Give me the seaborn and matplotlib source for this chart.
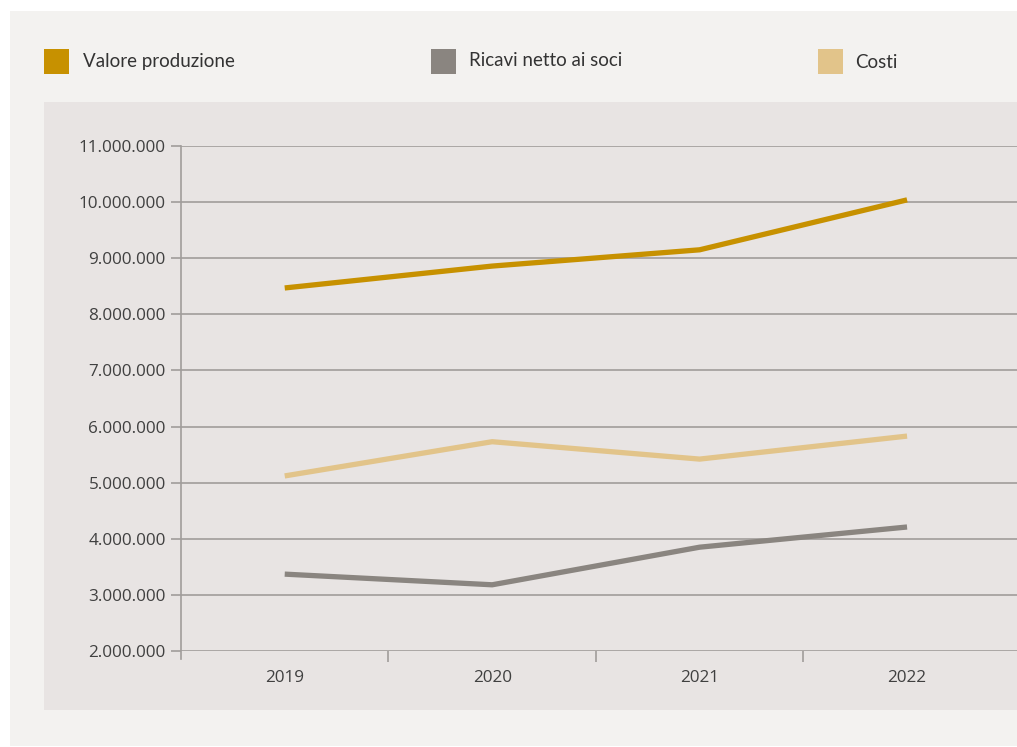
import matplotlib
matplotlib.use("Agg")
import matplotlib.pyplot as plt
import matplotlib.ticker as mticker
from matplotlib.patches import Rectangle
import seaborn as sns
import pandas as pd

# Data
years = ["2019", "2020", "2021", "2022"]
valore_produzione = [8470000, 8860000, 9150000, 10040000]
ricavi_netto_soci = [3370000, 3180000, 3850000, 4210000]
costi = [5120000, 5730000, 5420000, 5830000]

series_names = ["Valore produzione", "Ricavi netto ai soci", "Costi"]
colors = ["#c79100", "#8a8580", "#e2c48a"]

df = pd.DataFrame({
    "Anno": years * 3,
    "Valore": valore_produzione + ricavi_netto_soci + costi,
    "Serie": [series_names[0]] * 4 + [series_names[1]] * 4 + [series_names[2]] * 4,
})

sns.set_theme(style="white")
plt.rcParams["font.family"] = ["Open Sans", "DejaVu Sans"]

W, H = 1017, 747
fig = plt.figure(figsize=(W / 100, H / 100), dpi=100)
fig.patch.set_facecolor("white")

# background panels (pixel coords converted to figure fractions)
def px_rect(x0, y0, x1, y1, color):
    fig.patches.append(Rectangle((x0 / W, 1 - y1 / H), (x1 - x0) / W, (y1 - y0) / H,
                                 transform=fig.transFigure, facecolor=color,
                                 edgecolor="none", zorder=-10))

px_rect(10, 11, 1017, 746, "#f3f2f0")
px_rect(44, 102, 1017, 710, "#e8e4e3")

ax = fig.add_axes([181 / W, 1 - 651 / H, (1017 - 181) / W, (651 - 146) / H])
ax.set_facecolor("none")

sns.lineplot(data=df, x="Anno", y="Valore", hue="Serie", palette=colors,
             hue_order=series_names, linewidth=3.8, ax=ax, legend=False,
             sort=False)
for line in ax.lines:
    line.set_solid_capstyle("butt")

ax.set_xlim(-0.5, 3.53)
ax.set_ylim(2000000, 11000000)
ax.yaxis.set_major_locator(mticker.MultipleLocator(1000000))
ax.yaxis.set_major_formatter(mticker.FuncFormatter(lambda v, p: f"{int(v):,}".replace(",", ".")))
ax.grid(axis="y", color="#a09c9a", linewidth=1.2)
ax.set_axisbelow(True)

for s in ["top", "right", "bottom"]:
    ax.spines[s].set_visible(False)
ax.spines["left"].set_color("#a09c9a")
ax.spines["left"].set_linewidth(1.2)
ax.spines["left"].set_bounds(2000000 - 9000000 * 8 / 505, 11000000)

ax.tick_params(axis="y", which="major", length=7, width=1.2, color="#a09c9a",
               labelsize=12.3, labelcolor="#404040", pad=4, left=True)
ax.tick_params(axis="x", which="major", length=0, labelsize=12.3,
               labelcolor="#404040", pad=14)
ax.xaxis.set_minor_locator(mticker.FixedLocator([0.5, 1.5, 2.5]))
ax.tick_params(axis="x", which="minor", length=8, width=1.2, color="#a09c9a",
               bottom=True, direction="out")
ax.set_xlabel("")
ax.set_ylabel("")

# legend drawn at the top
legend_items = [(44, 83, 61), (431, 469, 61), (818, 855, 63)]
for (sx, tx, ty), name, c in zip(legend_items, series_names, colors):
    px_rect(sx, 49, sx + 25, 74, c)
    fig.text(tx / W, 1 - ty / H, name, fontsize=13.5, color="#333333",
             va="center", ha="left", family=["Lato", "DejaVu Sans"])

fig.savefig("out.png", dpi=100)
